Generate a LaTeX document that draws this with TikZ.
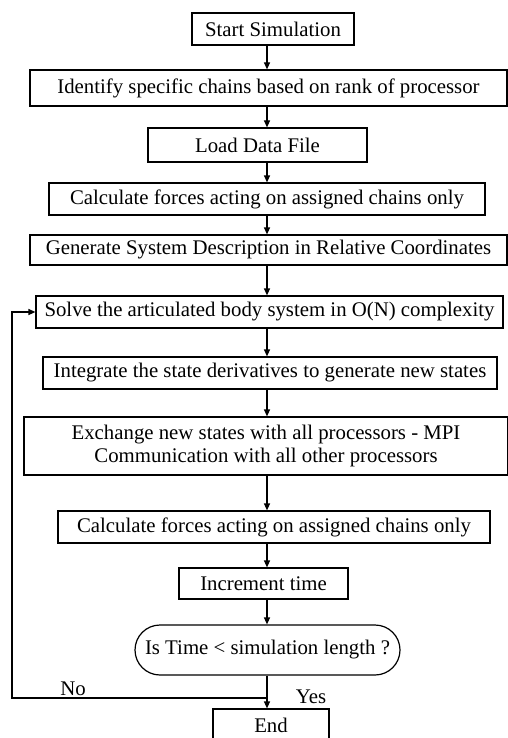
\documentclass[tikz,border=0pt]{standalone}
\usepackage{fontspec}
\setmainfont{Liberation Serif}
\usetikzlibrary{arrows.meta,shapes.misc}
\tikzset{
	flowbox/.style={draw, inner sep=0pt, font=\fontsize{10.4}{11.5}\selectfont, align=center},
	flowlabel/.style={font=\fontsize{10.4}{12}\selectfont},
	flowarrow/.style={-{Triangle[length=3.5pt,width=3pt]}}
}

\begin{document}
\begin{tikzpicture}[x=0.5pt, y=-0.5pt, line width=0.6pt]
	\useasboundingbox (0,0) rectangle (508,738);
	\coordinate (axis) at (267,0);
	\coordinate (loopx) at (12,0);
	\node[flowbox, minimum width=81pt, minimum height=16pt] (start) at (273,29) {Start Simulation};
	\node[flowbox, minimum width=238.5pt, minimum height=18pt] (ident) at (268.5,88) {Identify specific chains based on rank of processor};
	\node[flowbox, minimum width=109.5pt, minimum height=17pt] (load) at (257.5,145) {Load Data File};
	\node[flowbox, minimum width=218pt, minimum height=16pt] (forces) at (267,199) {Calculate forces acting on assigned chains only};
	\node[flowbox, minimum width=238.5pt, minimum height=15pt] (gen) at (268.5,250) {Generate System Description in Relative Coordinates};
	\node[flowbox, minimum width=233.5pt, minimum height=16pt] (solve) at (269.5,312) {Solve the articulated body system in O(N) complexity};
	\node[flowbox, minimum width=227pt, minimum height=16pt] (integ) at (270,373) {Integrate the state derivatives to generate new states};
	\node[flowbox, minimum width=242pt, minimum height=29pt] (exch) at (266,446) {Exchange new states with all processors - MPI\\Communication with all other processors};
	\node[flowbox, minimum width=216pt, minimum height=16pt] (forcestwo) at (274,527) {Calculate forces acting on assigned chains only};
	\node[flowbox, minimum width=84.5pt, minimum height=15.5pt] (incr) at (263.5,583.5) {Increment time};
	\node[flowbox, rounded rectangle, minimum width=132.5pt, minimum height=25pt] (check) at (267.5,650) {Is Time < simulation length ?};
	\node[flowbox, minimum width=58pt, minimum height=16pt] (finish) at (271,725) {End};
	\coordinate (split) at (267,698);
	\node[flowlabel] (no) at (73,689) {No};
	\node[flowlabel] (yes) at (311,697) {Yes};
	\draw[flowarrow] (axis |- start.south) -- (axis |- ident.north);
	\draw[flowarrow] (axis |- ident.south) -- (axis |- load.north);
	\draw[flowarrow] (axis |- load.south) -- (axis |- forces.north);
	\draw[flowarrow] (axis |- forces.south) -- (axis |- gen.north);
	\draw[flowarrow] (axis |- gen.south) -- (axis |- solve.north);
	\draw[flowarrow] (axis |- solve.south) -- (axis |- integ.north);
	\draw[flowarrow] (axis |- integ.south) -- (axis |- exch.north);
	\draw[flowarrow] (axis |- exch.south) -- (axis |- forcestwo.north);
	\draw[flowarrow] (axis |- forcestwo.south) -- (axis |- incr.north);
	\draw[flowarrow] (axis |- incr.south) -- (axis |- check.north);
	\draw[flowarrow] (axis |- check.south) -- (axis |- finish.north);
	\draw[flowarrow] (split) -- (split -| loopx) |- (solve.west);
\end{tikzpicture}
\end{document}
